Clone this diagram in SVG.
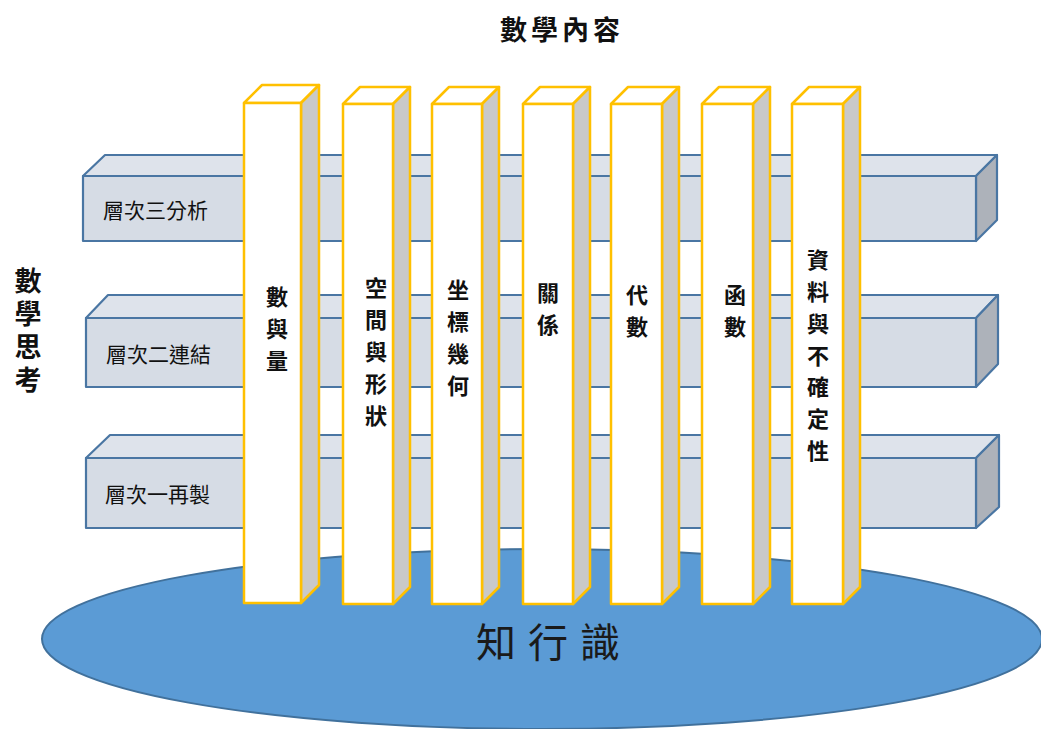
<svg xmlns="http://www.w3.org/2000/svg" width="1041" height="729" viewBox="0 0 1041 729">
<style>
.bf{fill:#D6DCE5;stroke:#4A76A3;stroke-width:2.2;stroke-linejoin:round}
.bt{fill:#DEE3EB;stroke:#4A76A3;stroke-width:2.2;stroke-linejoin:round}
.bs{fill:#ADB2BA;stroke:#4A76A3;stroke-width:2.2;stroke-linejoin:round}
.pf{fill:#FFFFFF;stroke:#FFC000;stroke-width:2.5;stroke-linejoin:round}
.ps{fill:#C9C9C9;stroke:#FFC000;stroke-width:2.5;stroke-linejoin:round}
.lbl{font-family:"Liberation Sans","Noto Sans CJK TC",sans-serif;font-size:21px;fill:#111}
.pt{font-family:"Noto Sans CJK TC",sans-serif;font-size:22px;font-weight:bold;fill:#111;text-anchor:middle}
.ttl{font-family:"Noto Sans CJK TC",sans-serif;font-size:27px;font-weight:bold;fill:#111;text-anchor:middle}
</style>
<rect width="1041" height="729" fill="#FFFFFF"/>
<g id="base">
<ellipse cx="542" cy="639" rx="500" ry="90" fill="#5B9BD5" stroke="#41719C" stroke-width="2"/>
<text x="554" y="657" font-family="Noto Sans CJK TC,sans-serif" font-size="40" fill="#1a1a1a" text-anchor="middle" letter-spacing="12">知行識</text>
</g>
<g id="title"><text class="ttl" x="562" y="40" letter-spacing="4">數學內容</text></g>
<g id="side-title">
<text x="28" y="267" font-family="Noto Sans CJK TC,sans-serif" font-size="27" font-weight="bold" fill="#111" writing-mode="vertical-rl" letter-spacing="6">數學思考</text>
</g>
<g id="level3">
<polygon class="bt" points="83,176 105,155 997,155 976,176"/>
<polygon class="bs" points="976,176 997,155 997,220 976,241"/>
<rect class="bf" x="83" y="176" width="893" height="65"/>
<text class="lbl" x="103" y="218">層次三分析</text>
</g>
<g id="level2">
<polygon class="bt" points="86,318 108,295 998,295 976,318"/>
<polygon class="bs" points="976,318 998,295 998,364 976,387"/>
<rect class="bf" x="86" y="318" width="890" height="69"/>
<text class="lbl" x="106" y="362">層次二連結</text>
</g>
<g id="level1">
<polygon class="bt" points="86,458 110,435 999,435 976,458"/>
<polygon class="bs" points="976,458 999,435 999,507 976,528"/>
<rect class="bf" x="86" y="458" width="890" height="70"/>
<text class="lbl" x="105" y="502">層次一再製</text>
</g>
<g id="connectors"></g>
<g id="p1">
<polygon class="pf" points="244,103 262,85 319,85 301,103"/>
<polygon class="ps" points="301,103 319,85 319,585 301,603"/>
<rect class="pf" x="244" y="103" width="57" height="500"/>
<text class="pt"><tspan x="277" y="305">數</tspan><tspan x="277" y="337">與</tspan><tspan x="277" y="369">量</tspan></text>
</g>
<g id="p2">
<polygon class="pf" points="343,104 360,87 410,87 393,104"/>
<polygon class="ps" points="393,104 410,87 410,587 393,604"/>
<rect class="pf" x="343" y="104" width="50" height="500"/>
<text class="pt"><tspan x="376" y="296">空</tspan><tspan x="376" y="328">間</tspan><tspan x="376" y="360">與</tspan><tspan x="376" y="392">形</tspan><tspan x="376" y="424">狀</tspan></text>
</g>
<g id="p3">
<polygon class="pf" points="432,104 449,87 499,87 482,104"/>
<polygon class="ps" points="482,104 499,87 499,587 482,604"/>
<rect class="pf" x="432" y="104" width="50" height="500"/>
<text class="pt"><tspan x="458" y="298">坐</tspan><tspan x="458" y="330">標</tspan><tspan x="458" y="362">幾</tspan><tspan x="458" y="394">何</tspan></text>
</g>
<g id="p4">
<polygon class="pf" points="523,104 540,87 590,87 573,104"/>
<polygon class="ps" points="573,104 590,87 590,587 573,604"/>
<rect class="pf" x="523" y="104" width="50" height="500"/>
<text class="pt"><tspan x="548" y="301">關</tspan><tspan x="548" y="333">係</tspan></text>
</g>
<g id="p5">
<polygon class="pf" points="611,104 628,87 679,87 662,104"/>
<polygon class="ps" points="662,104 679,87 679,587 662,604"/>
<rect class="pf" x="611" y="104" width="51" height="500"/>
<text class="pt"><tspan x="637" y="303">代</tspan><tspan x="637" y="335">數</tspan></text>
</g>
<g id="p6">
<polygon class="pf" points="702,104 719,87 770,87 753,104"/>
<polygon class="ps" points="753,104 770,87 770,587 753,604"/>
<rect class="pf" x="702" y="104" width="51" height="500"/>
<text class="pt"><tspan x="735" y="303">函</tspan><tspan x="735" y="335">數</tspan></text>
</g>
<g id="p7">
<polygon class="pf" points="792,104 809,87 860,87 843,104"/>
<polygon class="ps" points="843,104 860,87 860,587 843,604"/>
<rect class="pf" x="792" y="104" width="51" height="500"/>
<text class="pt"><tspan x="818" y="268">資</tspan><tspan x="818" y="300">料</tspan><tspan x="818" y="332">與</tspan><tspan x="818" y="364">不</tspan><tspan x="818" y="395">確</tspan><tspan x="818" y="427">定</tspan><tspan x="818" y="459">性</tspan></text>
</g>
</svg>
